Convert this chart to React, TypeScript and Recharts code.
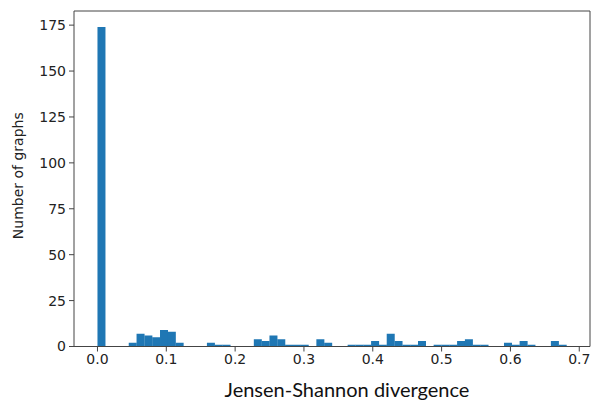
import { BarChart, Bar, XAxis, YAxis } from "recharts";

// histogram: 60 equal bins from 0 to ~0.6815
const binWidth = 0.6815 / 60;
const counts = [
  174, 0, 0, 0, 2, 7, 6, 5, 9, 8,
  2, 0, 0, 0, 2, 1, 1, 0, 0, 0,
  4, 3, 6, 4, 1, 1, 1, 0, 4, 2,
  0, 0, 1, 1, 1, 3, 1, 7, 3, 1,
  1, 3, 0, 1, 1, 1, 3, 4, 1, 1,
  0, 0, 2, 1, 3, 1, 0, 0, 3, 1,
];
const xTicks = [0, 0.1, 0.2, 0.3, 0.4, 0.5, 0.6, 0.7];
const yTicks = [0, 25, 50, 75, 100, 125, 150, 175];

const data = counts.map((count, i) => ({ mid: (i + 0.5) * binWidth, count }));

const xDomain = [-0.0341, 0.7156];
const yDomain = [0, 182.7];
const tickStyle = { fontFamily: "DejaVu Sans", fontSize: 14, fill: "#222" };
const spine = { stroke: "#444", strokeWidth: 1 };

export default function App() {
  return (
    <div style={{ position: "absolute", left: 0, top: 0, width: 591, height: 401, background: "#fff" }}>
      <BarChart
        width={591}
        height={401}
        data={data}
        margin={{ top: 10, right: 0, left: 0, bottom: 0 }}
        barCategoryGap={0}
        barGap={0}
      >
        <XAxis
          dataKey="mid"
          type="number"
          domain={xDomain}
          allowDataOverflow
          ticks={xTicks}
          tickFormatter={(v: number) => v.toFixed(1)}
          tick={tickStyle}
          tickSize={5}
          tickMargin={3}
          axisLine={spine}
          tickLine={spine}
          height={54.5}
          label={{
            value: "Jensen-Shannon divergence",
            position: "insideBottom",
            offset: 4,
            dx: 15,
            style: { fontFamily: "Lato", fontSize: 20, fill: "#111" },
          }}
        />
        <XAxis
          xAxisId="top"
          orientation="top"
          dataKey="mid"
          type="number"
          domain={xDomain}
          allowDataOverflow
          ticks={xTicks}
          tick={false}
          tickLine={false}
          axisLine={spine}
          height={1}
        />
        <YAxis
          domain={yDomain}
          allowDataOverflow
          ticks={yTicks}
          tick={tickStyle}
          tickSize={5}
          tickMargin={3}
          axisLine={spine}
          tickLine={spine}
          width={74}
          label={{
            value: "Number of graphs",
            angle: -90,
            position: "center",
            dx: -19,
            dy: -3,
            style: { fontFamily: "DejaVu Sans", fontSize: 14, fill: "#222" },
          }}
        />
        <YAxis
          yAxisId="right"
          orientation="right"
          domain={yDomain}
          allowDataOverflow
          ticks={yTicks}
          tick={false}
          tickLine={false}
          axisLine={spine}
          width={1}
        />
        <Bar dataKey="count" fill="#1f77b4" isAnimationActive={false} />
      </BarChart>
    </div>
  );
}
